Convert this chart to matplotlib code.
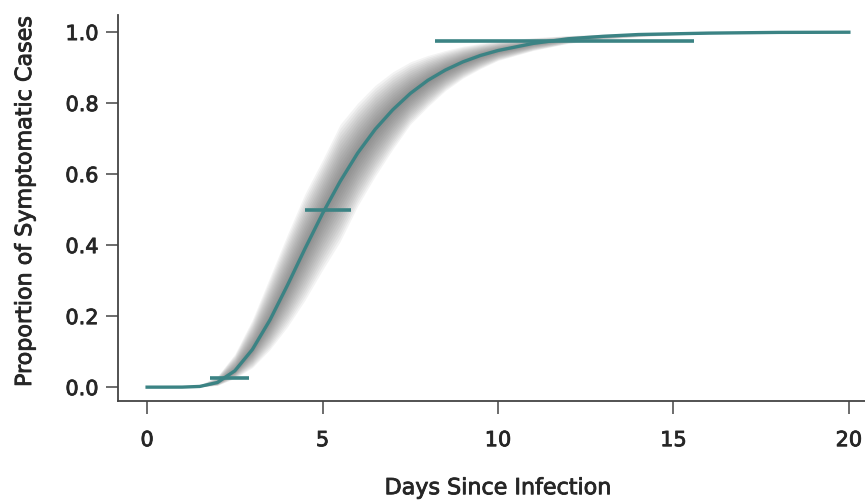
import numpy as np
import matplotlib.pyplot as plt
import matplotlib.patheffects as pe

# Estimated cumulative proportion of symptomatic cases by day since infection
days = [0, 0.5, 1, 1.5, 2, 2.5, 3, 3.5, 4, 4.5, 5, 5.5, 6, 6.5, 7, 7.5, 8,
        8.5, 9, 9.5, 10, 11, 12, 13, 14, 15, 16, 18, 20]
prop = [0, 0, 0.0001, 0.002, 0.013, 0.046, 0.106, 0.189, 0.287, 0.390, 0.489,
        0.579, 0.659, 0.726, 0.781, 0.827, 0.864, 0.893, 0.916, 0.934, 0.948,
        0.968, 0.981, 0.988, 0.993, 0.995, 0.997, 0.999, 0.9995]

# Spread of the bootstrap curves (upper / lower envelope)
band_hi = [0, 0, 0.001, 0.006, 0.03, 0.093, 0.19, 0.31, 0.43, 0.545, 0.64,
           0.74, 0.80, 0.85, 0.888, 0.916, 0.934, 0.948, 0.96, 0.968, 0.975,
           0.984, 0.99, 0.994, 0.996, 0.998, 0.999, 1.0, 1.0]
band_lo = [0, 0, 0, 0.0005, 0.005, 0.025, 0.055, 0.106, 0.17, 0.245, 0.33,
           0.41, 0.51, 0.594, 0.67, 0.74, 0.79, 0.835, 0.87, 0.897, 0.92,
           0.948, 0.968, 0.98, 0.987, 0.992, 0.995, 0.998, 0.999]

# Percentile estimates with confidence intervals
pct_level = [0.025, 0.5, 0.975]
pct_lo = [1.8, 4.5, 8.2]
pct_hi = [2.9, 5.8, 15.6]

teal = '#3b8384'
txt = '#262626'
font = 'DejaVu Sans'
bolden = [pe.withStroke(linewidth=0.6, foreground=txt)]

fig = plt.figure(figsize=(8.65, 5.0), dpi=100)
ax = fig.add_axes([0.1364, 0.198, 0.8636, 0.772])

x = np.array(days)
y = np.array(prop)
hi = np.array(band_hi)
lo = np.array(band_lo)

# smoky gray band, darker toward the central curve
for t in np.linspace(1.0, 0.1, 14):
    ax.fill_between(x, y + t * (hi - y), y + t * (lo - y),
                    color='#5c5c5c', alpha=0.07, linewidth=0)

for lvl, a, b in zip(pct_level, pct_lo, pct_hi):
    ax.plot([a, b], [lvl, lvl], color=teal, lw=2.6, solid_capstyle='butt')

ax.plot(x, y, color=teal, lw=2.4)

ax.set_xlim(-0.83, 20.46)
ax.set_ylim(-0.039, 1.048)
ax.set_xticks([0, 5, 10, 15, 20])
ax.set_yticks([0.0, 0.2, 0.4, 0.6, 0.8, 1.0])
ax.set_yticklabels(['0.0', '0.2', '0.4', '0.6', '0.8', '1.0'])

for side in ['top', 'right']:
    ax.spines[side].set_visible(False)
for side in ['left', 'bottom']:
    ax.spines[side].set_color('#444444')
    ax.spines[side].set_linewidth(1.3)

ax.tick_params(axis='both', direction='out', length=9, width=1.1,
               color='#444444', labelsize=15, labelcolor=txt)
ax.tick_params(axis='x', pad=12)
ax.tick_params(axis='y', pad=5)

for lab in ax.get_xticklabels() + ax.get_yticklabels():
    lab.set_family(font)
    lab.set_path_effects(bolden)

ax.set_xlabel('Days Since Infection', fontsize=16, color=txt, family=font,
              path_effects=bolden)
ax.set_ylabel('Proportion of Symptomatic Cases', fontsize=16, color=txt,
              family=font, path_effects=bolden)
ax.xaxis.set_label_coords(0.509, -0.2)
ax.yaxis.set_label_coords(-0.111, 0.518)

fig.savefig('out.png', dpi=100)
